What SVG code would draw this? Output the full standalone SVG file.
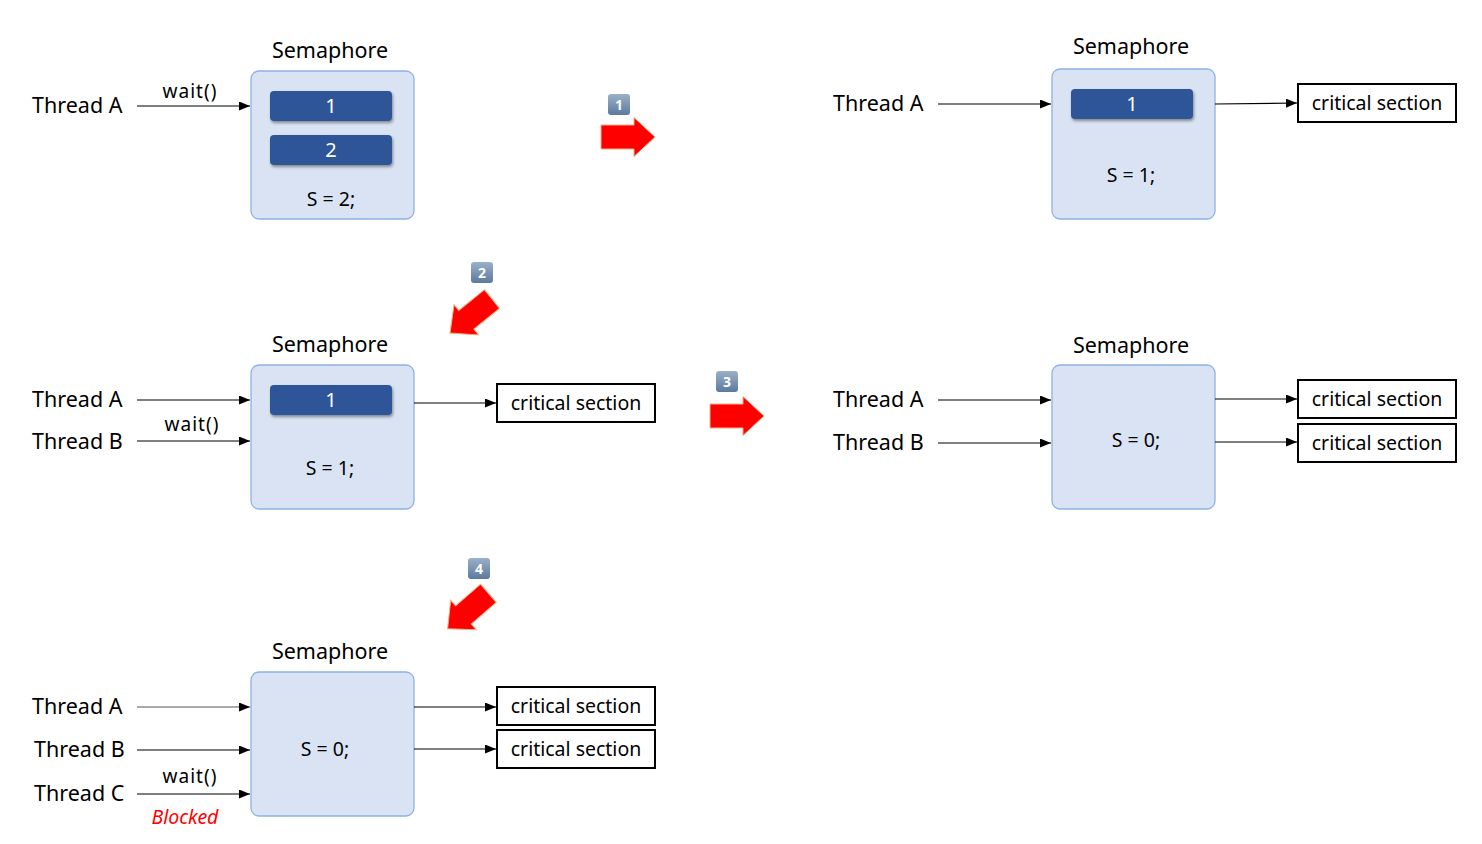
<svg xmlns="http://www.w3.org/2000/svg" width="1482" height="844" viewBox="0 0 1482 844">
<defs>
<marker id="ah" markerWidth="11" markerHeight="9" refX="11" refY="4.5" orient="auto" markerUnits="userSpaceOnUse"><path d="M0,0 L11,4.5 L0,9 z" fill="#000"/></marker>
<linearGradient id="bg" x1="0" y1="0" x2="0" y2="1"><stop offset="0" stop-color="#9bb0c8"/><stop offset="1" stop-color="#5b7a9e"/></linearGradient>
<filter id="sh" x="-10%" y="-30%" width="125%" height="180%"><feDropShadow dx="1" dy="2" stdDeviation="1.5" flood-color="#000" flood-opacity="0.4"/></filter>
<polygon id="ra" points="-27,-12 6,-12 6,-19.5 27,0 6,19.5 6,12 -27,12"/>
</defs>
<style>
text{font-family:"Noto Sans","Open Sans",sans-serif;fill:#000}
.t{font-size:21.5px}
.w{font-size:19px;text-anchor:middle;letter-spacing:1px}
.h{font-size:21.5px;text-anchor:middle}
.s{font-size:19.5px;text-anchor:middle}
.tk{font-size:20px;text-anchor:middle;fill:#fff}
.sem{fill:#dae3f3;stroke:#8db3e2;stroke-width:1.3}
.tok{fill:#2f5597;filter:url(#sh)}
.cs{fill:#fff;stroke:#000;stroke-width:2}
.ln{stroke:#000;stroke-width:1.2;fill:none;marker-end:url(#ah)}
.red{fill:#ff0000;stroke:#f4b183;stroke-width:1}
.bd{fill:url(#bg)}
.bn{font-size:14px;font-weight:bold;text-anchor:middle;fill:#fff}
</style>
<rect width="1482" height="844" fill="#fff"/>

<g id="step-badges">
<g id="badge1"><rect class="bd" x="608" y="94" width="22" height="21" rx="3"/><text class="bn" x="619" y="110">1</text></g>
<g id="badge2"><rect class="bd" x="471" y="262" width="22" height="21" rx="3"/><text class="bn" x="482" y="278">2</text></g>
<g id="badge3"><rect class="bd" x="716" y="371" width="22" height="21" rx="3"/><text class="bn" x="727" y="387">3</text></g>
<g id="badge4"><rect class="bd" x="468" y="558" width="22" height="21" rx="3"/><text class="bn" x="479" y="574">4</text></g>
</g>
<g id="red-arrows">
<use href="#ra" class="red" transform="translate(628,137)"/>
<use href="#ra" class="red" transform="translate(471,316) rotate(141)"/>
<use href="#ra" class="red" transform="translate(737,416)"/>
<use href="#ra" class="red" transform="translate(468,611) rotate(139)"/>
</g>

<!-- Panel 1 -->
<g id="p1-sem">
<text class="h" x="330" y="58">Semaphore</text>
<rect class="sem" x="251" y="71" width="163" height="148" rx="8"/>
<rect class="tok" x="270" y="91" width="122" height="30" rx="4"/><text class="tk" x="331" y="113">1</text>
<rect class="tok" x="270" y="135" width="122" height="30" rx="4"/><text class="tk" x="331" y="157">2</text>
<text class="s" x="331" y="206">S = 2;</text>
</g>
<g id="p1-threadA"><text class="t" x="32" y="113">Thread A</text></g>

<!-- Panel 2 -->
<g id="p2-sem">
<text class="h" x="1131" y="54">Semaphore</text>
<rect class="sem" x="1052" y="69" width="163" height="150" rx="8"/>
<rect class="tok" x="1071" y="89" width="122" height="30" rx="4"/><text class="tk" x="1132" y="111">1</text>
<text class="s" x="1131" y="182">S = 1;</text>
</g>
<g id="p2-threadA"><text class="t" x="833" y="111">Thread A</text></g>
<g id="p2-cs"><rect class="cs" x="1298" y="84" width="158" height="38"/><text class="s" x="1377" y="110">critical section</text></g>

<!-- Panel 3 -->
<g id="p3-sem">
<text class="h" x="330" y="352">Semaphore</text>
<rect class="sem" x="251" y="365" width="163" height="144" rx="8"/>
<rect class="tok" x="270" y="385" width="122" height="30" rx="4"/><text class="tk" x="331" y="407">1</text>
<text class="s" x="330" y="475">S = 1;</text>
</g>
<g id="p3-threadA"><text class="t" x="32" y="407">Thread A</text></g>
<g id="p3-threadB"><text class="t" x="32" y="449">Thread B</text></g>
<g id="p3-cs"><rect class="cs" x="497" y="384" width="158" height="38"/><text class="s" x="576" y="410">critical section</text></g>

<!-- Panel 4 -->
<g id="p4-sem">
<text class="h" x="1131" y="353">Semaphore</text>
<rect class="sem" x="1052" y="365" width="163" height="144" rx="8"/>
<text class="s" x="1136" y="447">S = 0;</text>
</g>
<g id="p4-threadA"><text class="t" x="833" y="407">Thread A</text></g>
<g id="p4-threadB"><text class="t" x="833" y="450">Thread B</text></g>
<g id="p4-cs1"><rect class="cs" x="1298" y="380" width="158" height="38"/><text class="s" x="1377" y="406">critical section</text></g>
<g id="p4-cs2"><rect class="cs" x="1298" y="424" width="158" height="38"/><text class="s" x="1377" y="450">critical section</text></g>

<!-- Panel 5 -->
<g id="p5-sem">
<text class="h" x="330" y="659">Semaphore</text>
<rect class="sem" x="251" y="672" width="163" height="144" rx="8"/>
<text class="s" x="325" y="756">S = 0;</text>
</g>
<g id="p5-threadA"><text class="t" x="32" y="714">Thread A</text></g>
<g id="p5-threadB"><text class="t" x="34" y="757">Thread B</text></g>
<g id="p5-threadC"><text class="t" x="34" y="801">Thread C</text></g>
<g id="p5-cs1"><rect class="cs" x="497" y="687" width="158" height="38"/><text class="s" x="576" y="713">critical section</text></g>
<g id="p5-cs2"><rect class="cs" x="497" y="730" width="158" height="38"/><text class="s" x="576" y="756">critical section</text></g>
<text id="blocked" x="185" y="824" style="font-size:19.5px;font-style:italic;text-anchor:middle;fill:#ff0000">Blocked</text>

<g id="connectors">
<path class="ln" d="M137,106 H250"/>
<text class="w" x="190" y="98">wait()</text>
<path class="ln" d="M938,104 H1051"/>
<path class="ln" d="M1215,104 L1297,103"/>
<path class="ln" d="M137,400 H250"/>
<path class="ln" d="M137,441 H250"/>
<text class="w" x="192" y="431">wait()</text>
<path class="ln" d="M414,403 H496"/>
<path class="ln" d="M938,400 H1051"/>
<path class="ln" d="M938,443 H1051"/>
<path class="ln" d="M1215,399 H1297"/>
<path class="ln" d="M1215,442 H1297"/>
<path class="ln" d="M137,707 H250" style="stroke:#555"/>
<path class="ln" d="M137,750 H250"/>
<path class="ln" d="M137,794 H250"/>
<text class="w" x="190" y="783">wait()</text>
<path class="ln" d="M414,707 H496"/>
<path class="ln" d="M414,749 H496"/>
</g>
</svg>
